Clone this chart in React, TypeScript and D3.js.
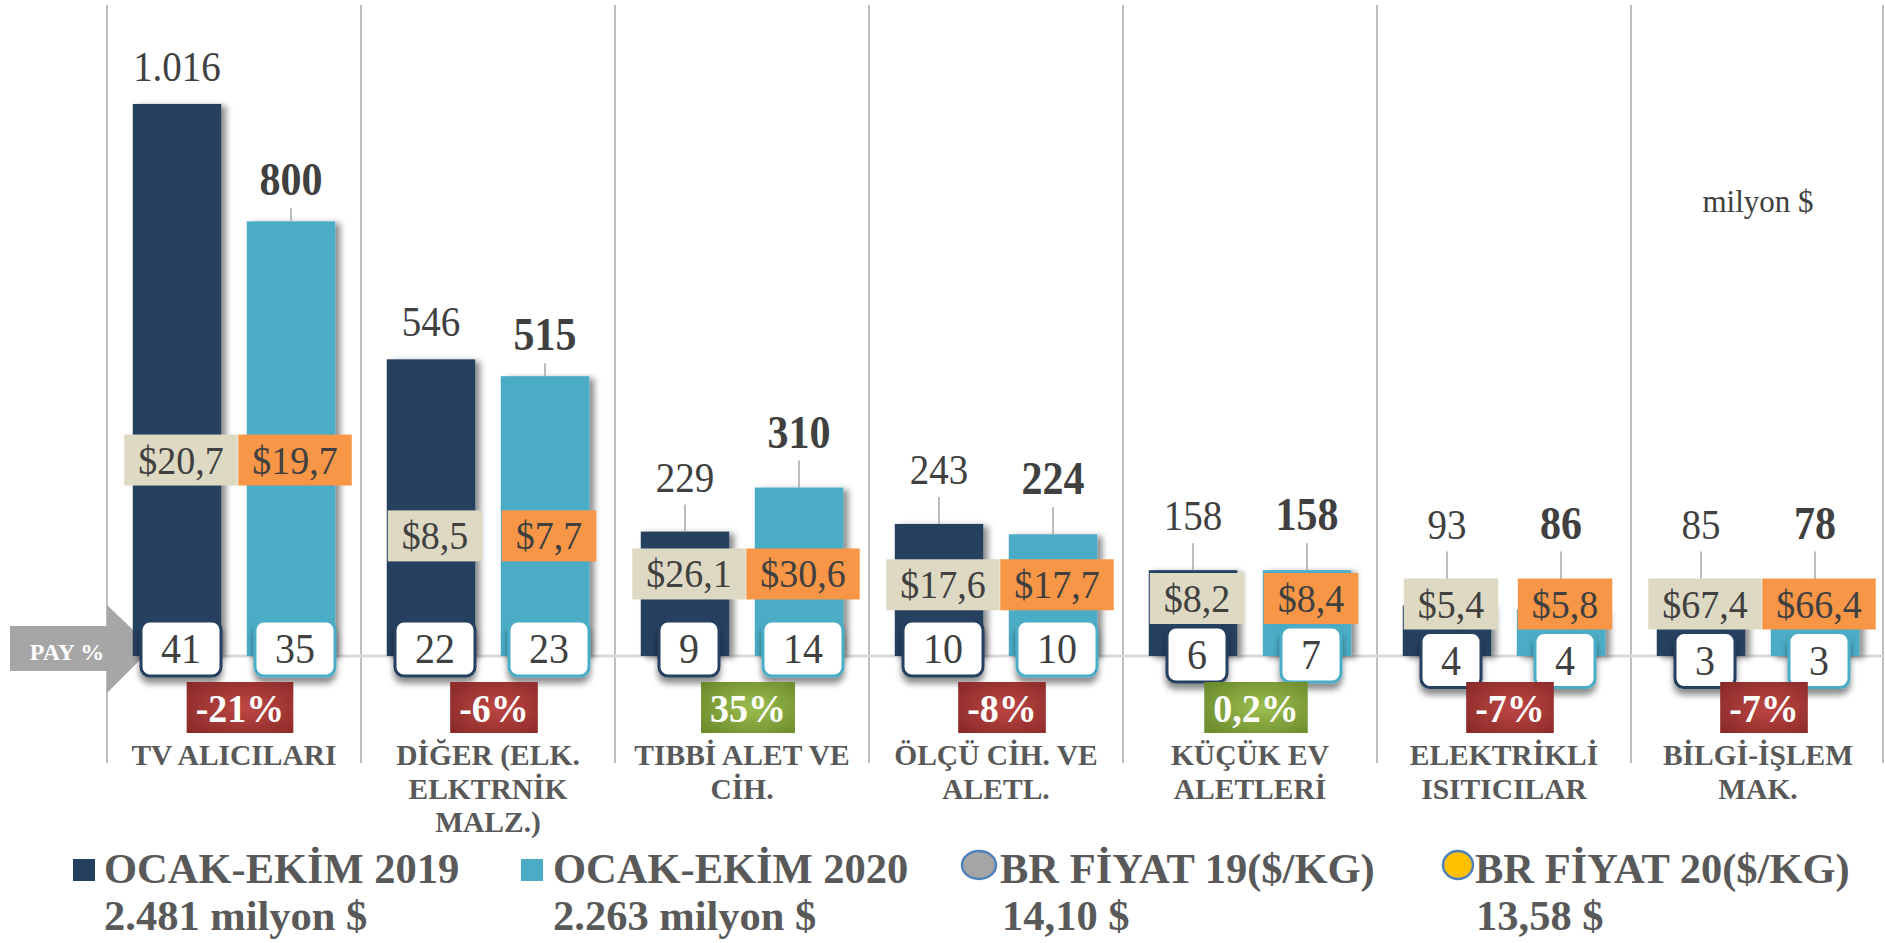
import React, { useEffect, useRef } from "react";
import * as d3 from "d3";

// ---------- data ----------
const categories = [
  "TV ALICILARI",
  "DİĞER (ELK. ELKTRNİK MALZ.)",
  "TIBBİ ALET VE CİH.",
  "ÖLÇÜ CİH. VE ALETL.",
  "KÜÇÜK EV ALETLERİ",
  "ELEKTRİKLİ ISITICILAR",
  "BİLGİ-İŞLEM MAK.",
];
const categoryLines = [
  ["TV ALICILARI"],
  ["DİĞER (ELK.", "ELKTRNİK", "MALZ.)"],
  ["TIBBİ ALET VE", "CİH."],
  ["ÖLÇÜ CİH. VE", "ALETL."],
  ["KÜÇÜK EV", "ALETLERİ"],
  ["ELEKTRİKLİ", "ISITICILAR"],
  ["BİLGİ-İŞLEM", "MAK."],
];
const exports2019 = [1016, 546, 229, 243, 158, 93, 85];
const exports2020 = [800, 515, 310, 224, 158, 86, 78];
const price2019 = [20.7, 8.5, 26.1, 17.6, 8.2, 5.4, 67.4];
const price2020 = [19.7, 7.7, 30.6, 17.7, 8.4, 5.8, 66.4];
const share2019 = [41, 22, 9, 10, 6, 4, 3];
const share2020 = [35, 23, 14, 10, 7, 4, 3];
const changePct = [-21, -6, 35, -8, 0.2, -7, -7];
const seriesKeys = ["2019", "2020"];
const seriesNames = ["OCAK-EKİM 2019", "OCAK-EKİM 2020", "BR FİYAT 19($/KG)", "BR FİYAT 20($/KG)"];
const totalExports = [2481, 2263];
const avgPrices = [14.1, 13.58];
const unitLabel = "milyon $";
const shareAxisLabel = "PAY %";

// ---------- styles ----------
const FONT = "'Liberation Serif', 'Times New Roman', serif";
const NAVY = "#253F60";
const TEAL = "#4BACC6";
const BEIGE = "#DDD9C3";
const ORANGE = "#F79646";
const TXT = "#404040";
const TXT2 = "#595959";
const STRETCH = 1.08;

const locale = d3.formatLocale({
  decimal: ",",
  thousands: ".",
  grouping: [3],
  currency: ["$", ""],
  minus: "-",
} as any);
const fmtInt = locale.format(",d");
const fmtPrice = locale.format("$.1f");
const fmtPrice2 = locale.format(".2f");
const fmtPct = (v: number) =>
  (Number.isInteger(v) ? locale.format("d")(v) : locale.format(".1f")(v)) + "%";

export default function App() {
  const ref = useRef<SVGSVGElement | null>(null);

  useEffect(() => {
    const W = 1885;
    const H = 943;
    const svg = d3.select(ref.current);
    svg.selectAll("*").remove();
    svg.attr("width", W).attr("height", H);

    const defs = svg.append("defs");
    const f1 = defs.append("filter").attr("id", "barShadow")
      .attr("x", "-20%").attr("y", "-20%").attr("width", "150%").attr("height", "150%");
    f1.append("feDropShadow").attr("dx", 5).attr("dy", 2).attr("stdDeviation", 3)
      .attr("flood-color", "#000").attr("flood-opacity", 0.45);
    const f2 = defs.append("filter").attr("id", "boxShadow")
      .attr("x", "-30%").attr("y", "-30%").attr("width", "160%").attr("height", "170%");
    f2.append("feDropShadow").attr("dx", 0).attr("dy", 6).attr("stdDeviation", 3)
      .attr("flood-color", "#000").attr("flood-opacity", 0.45);
    const gr = defs.append("radialGradient").attr("id", "redGrad").attr("cx", "55%").attr("cy", "50%").attr("r", "70%");
    gr.append("stop").attr("offset", "0%").attr("stop-color", "#BD4744");
    gr.append("stop").attr("offset", "100%").attr("stop-color", "#8A2A28");
    const gg = defs.append("radialGradient").attr("id", "greenGrad").attr("cx", "55%").attr("cy", "50%").attr("r", "70%");
    gg.append("stop").attr("offset", "0%").attr("stop-color", "#9BBE4E");
    gg.append("stop").attr("offset", "100%").attr("stop-color", "#6B8A2C");

    const x = d3.scaleBand<string>().domain(categories).range([107, 1885]);
    const xs = d3.scaleBand<string>().domain(seriesKeys).range([0, x.bandwidth()])
      .paddingInner(0.224).paddingOuter(0.226);
    const y = d3.scaleLinear().domain([0, 1200]).range([656, 4]);
    const y0 = y(0);

    const values = [exports2019, exports2020];
    const prices = [price2019, price2020];
    const shares = [share2019, share2020];
    const colors = [NAVY, TEAL];
    const boxColors = [BEIGE, ORANGE];

    // text helper: vertically stretched numeric label at (tx, ty) baseline
    const stretchedText = (g: any, tx: number, ty: number, txt: string, size: number, bold: boolean, fill: string) =>
      g.append("text")
        .attr("transform", `translate(${tx},${ty}) scale(1,${STRETCH})`)
        .attr("text-anchor", "middle").attr("font-family", FONT).attr("font-size", size)
        .attr("font-weight", bold ? "bold" : "normal").attr("fill", fill).text(txt);

    // separators
    const sepX = categories.map((c) => x(c)!).concat([1883]);
    svg.append("g").selectAll("line").data(sepX).join("line")
      .attr("x1", (d) => d).attr("x2", (d) => d).attr("y1", 5).attr("y2", 763)
      .attr("stroke", "#BFBFBF").attr("stroke-width", 2);

    // baseline
    svg.append("line").attr("x1", 107).attr("x2", 1885).attr("y1", y0).attr("y2", y0)
      .attr("stroke", "#D9D9D9").attr("stroke-width", 3);

    // PAY % arrow
    const ay = 648;
    svg.append("path")
      .attr("d", `M10,${ay - 22} L107,${ay - 22} L107,${ay - 43} L152,${ay} L107,${ay + 45} L107,${ay + 23} L10,${ay + 23} Z`)
      .attr("fill", "#A6A6A6");
    svg.append("text").attr("x", 67).attr("y", ay + 12).attr("text-anchor", "middle")
      .attr("font-family", FONT).attr("font-weight", "bold").attr("font-size", 24).attr("fill", "#fff")
      .text(shareAxisLabel);

    // bars
    const barG = svg.append("g");
    categories.forEach((c, i) => {
      seriesKeys.forEach((k, s) => {
        const v = values[s][i];
        barG.append("rect")
          .attr("x", x(c)! + xs(k)!).attr("width", xs.bandwidth())
          .attr("y", y(v)).attr("height", y0 - y(v))
          .attr("fill", colors[s]).attr("filter", "url(#barShadow)");
      });
    });

    const leaderG = svg.append("g");
    const labelG = svg.append("g");
    const priceG = svg.append("g");
    const shareG = svg.append("g");
    const badgeG = svg.append("g");

    categories.forEach((c, i) => {
      const maxV = Math.max(exports2019[i], exports2020[i]);
      const priceCy = y0 - Math.max(52, 32 + 0.297 * (y0 - y(maxV)));
      const priceTop = priceCy - 25.5;
      const shareTop = Math.max(621, priceCy + 25.5 + 3);

      seriesKeys.forEach((k, s) => {
        const v = values[s][i];
        const cx = x(c)! + xs(k)! + xs.bandwidth() / 2;
        const top = y(v);
        let ly: number;
        if (priceTop - top > 80) ly = top - (s === 1 ? 26 : 23);
        else ly = Math.min(top - 40, priceTop - 40);
        if (top - ly > 24) {
          leaderG.append("line").attr("x1", cx).attr("x2", cx)
            .attr("y1", ly + 13).attr("y2", top)
            .attr("stroke", "#A6A6A6").attr("stroke-width", 1.5);
        }
        stretchedText(labelG, cx, ly, fmtInt(v), s === 1 ? 42 : 39, s === 1, TXT);

        // price label box
        const pg = priceG.append("g");
        const pr = pg.append("rect");
        const pt = stretchedText(pg, cx + 4, priceCy + 13.5, fmtPrice(prices[s][i]), 38, false, TXT);
        const pw = (pt.node() as SVGTextElement).getComputedTextLength() + 28;
        pr.attr("x", cx + 4 - pw / 2).attr("y", priceTop).attr("width", pw).attr("height", 51)
          .attr("fill", boxColors[s]);

        // share box
        const sg = shareG.append("g");
        const sr = sg.append("rect");
        const st = stretchedText(sg, cx + 4, shareTop + 42, String(shares[s][i]), 40, false, TXT);
        const sw = (st.node() as SVGTextElement).getComputedTextLength() + 40;
        sr.attr("x", cx + 4 - sw / 2).attr("y", shareTop).attr("width", sw).attr("height", 55)
          .attr("rx", 9).attr("fill", "#fff").attr("stroke", colors[s]).attr("stroke-width", 3)
          .attr("filter", "url(#boxShadow)");
      });

      // change badge
      const bcx = x(c)! + x.bandwidth() / 2 + 6;
      const bg = badgeG.append("g");
      const br = bg.append("rect");
      const bt = stretchedText(bg, bcx, 682 + 39.5, fmtPct(changePct[i]), 38, true, "#fff");
      const bw = (bt.node() as SVGTextElement).getComputedTextLength() + 18;
      br.attr("x", bcx - bw / 2).attr("y", 682).attr("width", bw).attr("height", 51)
        .attr("fill", changePct[i] >= 0 ? "url(#greenGrad)" : "url(#redGrad)");

      // category label
      const t = svg.append("text").attr("text-anchor", "middle").attr("font-family", FONT)
        .attr("font-weight", "bold").attr("font-size", 29.5).attr("fill", TXT2);
      categoryLines[i].forEach((line, li) => {
        t.append("tspan").attr("x", x(c)! + x.bandwidth() / 2).attr("y", 765 + li * 33.5).text(line);
      });
    });

    // unit label
    const lastC = categories[categories.length - 1];
    svg.append("text").attr("x", x(lastC)! + x.bandwidth() / 2).attr("y", 212)
      .attr("text-anchor", "middle").attr("font-family", FONT).attr("font-size", 31)
      .attr("fill", TXT).text(unitLabel);

    // legend
    const lg = svg.append("g").attr("font-family", FONT).attr("font-weight", "bold")
      .attr("font-size", 42.5).attr("fill", TXT2);
    lg.append("rect").attr("x", 73).attr("y", 859).attr("width", 22).attr("height", 22).attr("fill", NAVY);
    lg.append("text").attr("x", 104).attr("y", 883).text(seriesNames[0]);
    lg.append("text").attr("x", 104).attr("y", 930).text(`${fmtInt(totalExports[0])} ${unitLabel}`);
    lg.append("rect").attr("x", 521).attr("y", 859).attr("width", 22).attr("height", 22).attr("fill", TEAL);
    lg.append("text").attr("x", 553).attr("y", 883).text(seriesNames[1]);
    lg.append("text").attr("x", 553).attr("y", 930).text(`${fmtInt(totalExports[1])} ${unitLabel}`);
    lg.append("ellipse").attr("cx", 979).attr("cy", 865).attr("rx", 17).attr("ry", 14)
      .attr("fill", "#A5A5A5").attr("stroke", "#4F81BD").attr("stroke-width", 2.5);
    lg.append("text").attr("x", 1000).attr("y", 883).text(seriesNames[2]);
    lg.append("text").attr("x", 1002).attr("y", 930).text(`${fmtPrice2(avgPrices[0])} $`);
    lg.append("ellipse").attr("cx", 1458).attr("cy", 865).attr("rx", 15).attr("ry", 14)
      .attr("fill", "#FFC000").attr("stroke", "#4F81BD").attr("stroke-width", 2.5);
    lg.append("text").attr("x", 1475).attr("y", 883).text(seriesNames[3]);
    lg.append("text").attr("x", 1476).attr("y", 930).text(`${fmtPrice2(avgPrices[1])} $`);
  }, []);

  return (
    <svg
      ref={ref}
      width={1885}
      height={943}
      style={{ position: "absolute", left: 0, top: 0, display: "block", background: "#fff" }}
    />
  );
}
